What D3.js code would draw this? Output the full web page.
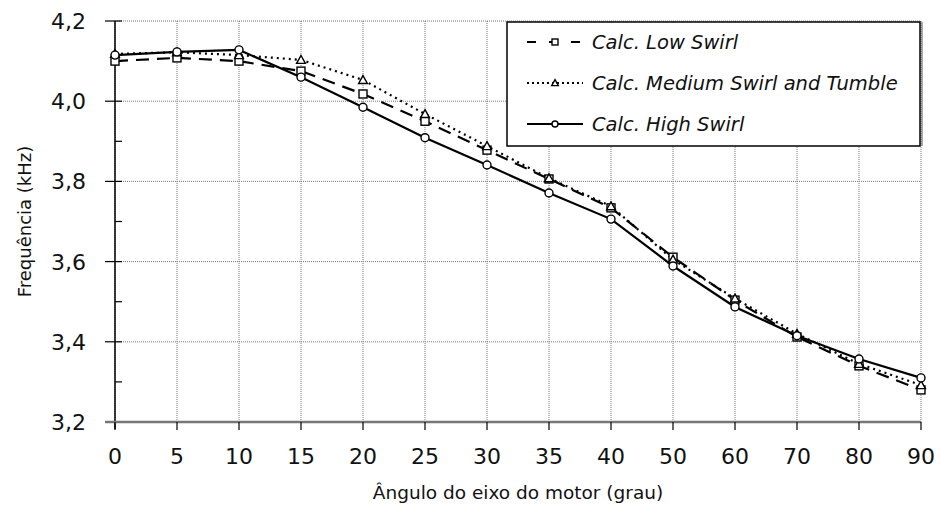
<!DOCTYPE html>
<html>
<head>
    <script src="https://d3js.org/d3.v7.min.js"></script>
    <style>
        body { margin: 0; background: #fff; }
        text { font-family: "DejaVu Sans", sans-serif; fill: #111; }
    </style>
</head>
<body>
    <svg width="940" height="507" id="mainSvg"></svg>
    <script>
        const angles = ["0", "5", "10", "15", "20", "25", "30", "35", "40", "50", "60", "70", "80", "90"];
        const lowSwirl = [4.100, 4.108, 4.100, 4.075, 4.018, 3.950, 3.878, 3.806, 3.734, 3.611, 3.504, 3.412, 3.340, 3.280];
        const mediumSwirl = [4.118, 4.122, 4.115, 4.103, 4.053, 3.968, 3.888, 3.808, 3.738, 3.605, 3.508, 3.420, 3.345, 3.292];
        const highSwirl = [4.115, 4.123, 4.128, 4.060, 3.985, 3.909, 3.841, 3.771, 3.706, 3.589, 3.487, 3.415, 3.357, 3.310];
        const yTicks = [3.2, 3.4, 3.6, 3.8, 4.0, 4.2];
        const yMinor = [3.3, 3.5, 3.7, 3.9, 4.1];

        const series = [
            { name: "Calc. Low Swirl", values: lowSwirl, dash: "13,8", marker: "square" },
            { name: "Calc. Medium Swirl and Tumble", values: mediumSwirl, dash: "2,4", marker: "triangle" },
            { name: "Calc. High Swirl", values: highSwirl, dash: null, marker: "circle" }
        ];

        const svg = d3.select("#mainSvg");
        const plotLeft = 115, plotRight = 921, plotTop = 21, plotBottom = 422;

        const x = d3.scalePoint().domain(angles).range([plotLeft, plotRight]);
        const y = d3.scaleLinear().domain([3.2, 4.2]).range([plotBottom, plotTop]);
        const fmt = v => d3.format(".1f")(v).replace(".", ",");

        // grid
        svg.append("g").selectAll("line").data(angles).join("line")
            .attr("x1", d => x(d)).attr("x2", d => x(d))
            .attr("y1", plotTop).attr("y2", plotBottom)
            .attr("stroke", "#777").attr("stroke-width", 1)
            .attr("stroke-dasharray", "1,1");
        svg.append("g").selectAll("line").data(yTicks.slice(1)).join("line")
            .attr("x1", plotLeft).attr("x2", plotRight)
            .attr("y1", d => y(d)).attr("y2", d => y(d))
            .attr("stroke", "#777").attr("stroke-width", 1)
            .attr("stroke-dasharray", "1,1");

        // y axis
        svg.append("line")
            .attr("x1", plotLeft).attr("x2", plotLeft).attr("y1", plotTop).attr("y2", plotBottom + 7)
            .attr("stroke", "#000").attr("stroke-width", 1.5);
        svg.append("g").selectAll("line").data(yTicks).join("line")
            .attr("x1", plotLeft - 10).attr("x2", plotLeft + 7)
            .attr("y1", d => y(d)).attr("y2", d => y(d))
            .attr("stroke", "#000").attr("stroke-width", 1.2);
        svg.append("g").selectAll("line").data(yMinor).join("line")
            .attr("x1", plotLeft).attr("x2", plotLeft + 7)
            .attr("y1", d => y(d)).attr("y2", d => y(d))
            .attr("stroke", "#000").attr("stroke-width", 1.2);
        svg.append("g").selectAll("text").data(yTicks).join("text")
            .attr("x", 86).attr("y", d => y(d))
            .attr("text-anchor", "end").attr("dy", "0.36em")
            .style("font-size", "22px")
            .text(fmt);

        // x axis
        svg.append("line")
            .attr("x1", plotLeft - 10).attr("x2", plotRight).attr("y1", plotBottom).attr("y2", plotBottom)
            .attr("stroke", "#777").attr("stroke-width", 2.5);
        svg.append("g").selectAll("line").data(angles).join("line")
            .attr("x1", d => x(d)).attr("x2", d => x(d))
            .attr("y1", plotBottom).attr("y2", plotBottom + 8)
            .attr("stroke", "#000").attr("stroke-width", 1.2);
        svg.append("g").selectAll("text").data(angles).join("text")
            .attr("x", d => x(d)).attr("y", 464)
            .attr("text-anchor", "middle")
            .style("font-size", "22px")
            .text(d => d);

        svg.append("text")
            .attr("x", 518).attr("y", 499)
            .attr("text-anchor", "middle")
            .style("font-size", "18.5px")
            .text("Ângulo do eixo do motor (grau)");
        svg.append("text")
            .attr("transform", `translate(31, ${(plotTop + plotBottom) / 2}) rotate(-90)`)
            .attr("text-anchor", "middle")
            .style("font-size", "18px")
            .text("Frequência (kHz)");

        // markers
        const drawMarker = function (sel, type, size) {
            if (type === "square") {
                sel.append("rect")
                    .attr("x", -size / 2).attr("y", -size / 2)
                    .attr("width", size).attr("height", size);
            } else if (type === "triangle") {
                const s = size * 0.55;
                sel.append("path").attr("d", `M0,${-s} L${s},${s * 0.8} L${-s},${s * 0.8}Z`);
            } else {
                sel.append("circle").attr("r", size / 2);
            }
            sel.selectAll("*").attr("fill", "#fff").attr("stroke", "#000").attr("stroke-width", 1.4);
        };

        const line = d3.line()
            .x((d, i) => x(angles[i]))
            .y(d => y(d));

        series.forEach(s => {
            svg.append("path")
                .datum(s.values)
                .attr("d", line)
                .attr("fill", "none")
                .attr("stroke", "#000")
                .attr("stroke-width", 2.2)
                .attr("stroke-dasharray", s.dash);
        });
        series.forEach(s => {
            svg.append("g").selectAll("g").data(s.values).join("g")
                .attr("transform", (d, i) => `translate(${x(angles[i])}, ${y(d)})`)
                .each(function () { drawMarker(d3.select(this), s.marker, 8); });
        });

        // legend
        const legend = svg.append("g");
        legend.append("rect")
            .attr("x", 507).attr("y", 22).attr("width", 413).attr("height", 124)
            .attr("fill", "#fff").attr("stroke", "#000").attr("stroke-width", 1.5);
        legend.append("line")
            .attr("x1", 922).attr("x2", 922).attr("y1", 22).attr("y2", 146)
            .attr("stroke", "#555").attr("stroke-width", 1);
        series.forEach((s, i) => {
            const ly = 42 + i * 41;
            legend.append("line")
                .attr("x1", 527).attr("x2", 583).attr("y1", ly).attr("y2", ly)
                .attr("stroke", "#000").attr("stroke-width", 2.2)
                .attr("stroke-dasharray", s.dash ? (s.marker === "square" ? "9,13" : "2,3") : null);
            const m = legend.append("g").attr("transform", `translate(555, ${ly})`);
            drawMarker(m, s.marker, 6);
            legend.append("text")
                .attr("x", 592).attr("y", ly).attr("dy", "0.35em")
                .style("font-size", "19.5px").style("font-style", "italic")
                .text(s.name);
        });
    </script>
</body>
</html>
